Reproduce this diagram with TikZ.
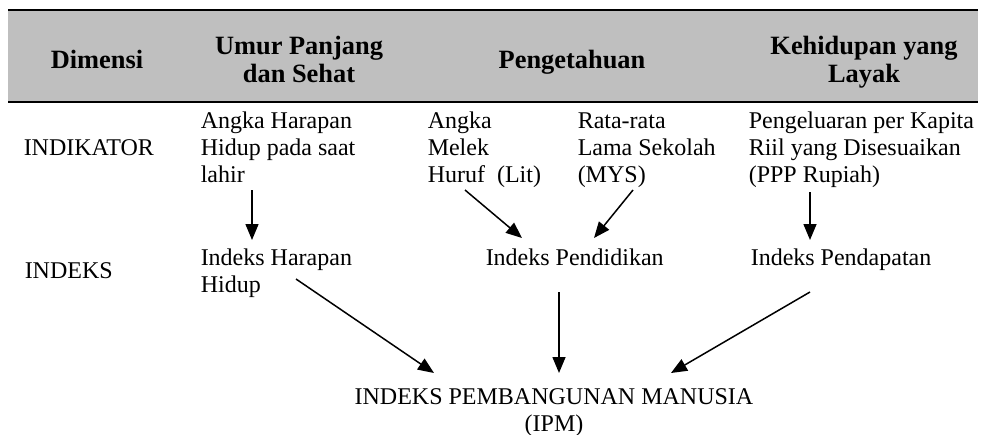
\documentclass[tikz,border=0pt]{standalone}
\usepackage{fontspec}
\setmainfont{Liberation Serif}
\usetikzlibrary{positioning,arrows.meta,calc}

\begin{document}
\begin{tikzpicture}[x=0.5pt, y=-0.5pt,
    >={Triangle[length=8pt,width=6.5pt]},
    line width=0.75pt,
    head/.style={font=\fontsize{13.2}{14}\selectfont\bfseries,
        align=center, anchor=base, inner sep=0pt},
    txt/.style={font=\fontsize{12}{13.5}\selectfont,
        align=left, anchor=base west, inner sep=0pt}]
    \useasboundingbox (0,0) rectangle (985,434);

    % header band
    \fill[gray!50] (8,10) rectangle (978,102);
    \draw[line width=1pt] (8,10) -- (978,10) (8,102) -- (978,102);
    \node[head] (dim) at (97,68) {Dimensi};
    \node[head] (umur) at (299,82) {Umur Panjang\\dan Sehat};
    \node[head] (peng) at (572,68) {Pengetahuan};
    \node[head] (hidup) at (864,82) {Kehidupan yang\\Layak};

    % indikator (base = last line)
    \node[txt] (ind) at (23,155) {INDIKATOR};
    \node[txt] (ahh) at (200,182) {Angka Harapan\\Hidup pada saat\\lahir};
    \node[txt] (amh) at (427,182) {Angka\\Melek\\Huruf\ \ (Lit)};
    \node[txt] (mys) at (577,182) {Rata-rata\\Lama Sekolah\\(MYS)};
    \node[txt] (ppp) at (748,182) {Pengeluaran per Kapita\\Riil yang Disesuaikan\\(PPP Rupiah)};

    % indeks
    \node[txt] (idx) at (24,278) {INDEKS};
    \node[txt] (ihh) at (200,292) {Indeks Harapan\\Hidup};
    \node[txt] (ipd) at (485,265) {Indeks Pendidikan};
    \node[txt] (ipt) at (750,265) {Indeks Pendapatan};

    \node[txt, align=center, anchor=base] (ipm) at (554,431) {INDEKS PEMBANGUNAN MANUSIA\\(IPM)};

    \draw[->] ($(ahh.base west)+(52,8)$) -- ($(ihh.base west)+(52,-52)$);
    \draw[->] ($(amh.base west)+(38,8)$) -- ($(ipd.base west)+(37,-27)$);
    \draw[->] ($(mys.base west)+(56,8)$) -- ($(ipd.base west)+(109,-27)$);
    \draw[->] ($(ppp.base west)+(62,10)$) -- ($(ipt.base west)+(60,-25)$);

    \draw[->] ($(ihh.base west)+(96,-13)$) -- ($(ipm.base)+(-120,-58)$);
    \draw[->] ($(ipd.base west)+(74,27)$) -- ($(ipm.base)+(5,-58)$);
    \draw[->] ($(ipt.base west)+(60,27)$) -- ($(ipm.base)+(117,-58)$);
\end{tikzpicture}
\end{document}
